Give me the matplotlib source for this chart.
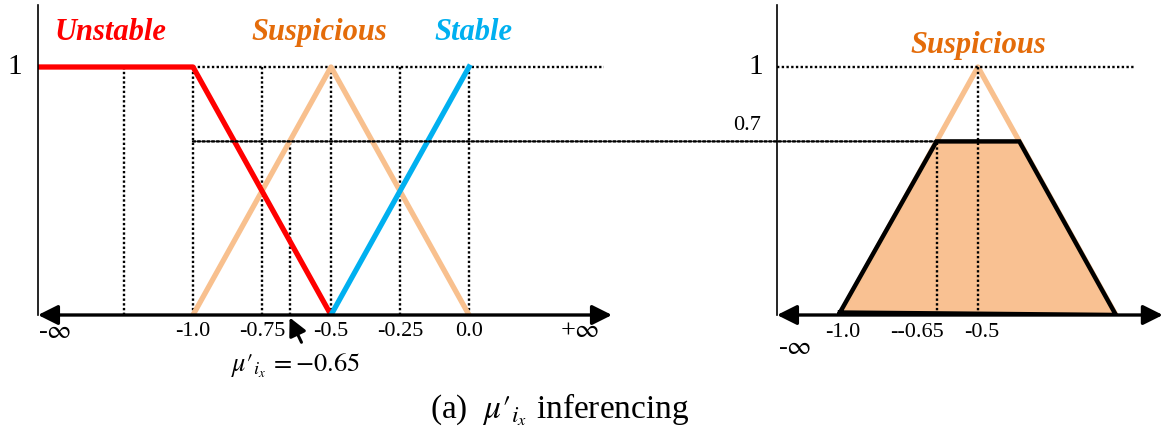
import matplotlib.pyplot as plt
from matplotlib.patches import ConnectionPatch

plt.rcParams['font.family'] = ['Liberation Serif', 'DejaVu Serif']
plt.rcParams['mathtext.fontset'] = 'stix'

# membership functions (left panel)
unstable_x = [-1.5616, -1.0, -0.5]
unstable_y = [1, 1, 0]
suspicious_x = [-1.0, -0.5, 0.0]
suspicious_y = [0, 1, 0]
stable_x = [-0.5, 0.0]
stable_y = [0, 1]
guide_x = [-1.25, -1.0, -0.75, -0.5, -0.25, 0.0]
tick_vals = [-1.0, -0.75, -0.5, -0.25, 0.0]
tick_labels = ['-1.0', '-0.75', '-0.5', '-0.25', '0.0']
mu_val = -0.65
cut = 0.7

# clipped set (right panel)
clip_x = [-1.0, -0.65, -0.35, 0.0]
clip_y = [0, 0.7, 0.7, 0]
rtick_vals = [-1.0, -0.65, -0.5]
rtick_labels = ['-1.0', '--0.65', '-0.5']

RED = '#ff0000'
PEACH = '#f8c08e'
BLUE = '#00b0f0'
ORANGE_TXT = '#e46c0a'
FILL = '#f9c192'
DOT = (0, (1, 1))

W, H = 1173, 445
PXU, PYU = 276.0, 248.0  # pixels per data unit
fig = plt.figure(figsize=(W / 100, H / 100), dpi=100)

MU = r"$\mu\prime_{i_x}$"


def make_ax(x0px, xlim, ytop=1.25):
    w = (xlim[1] - xlim[0]) * PXU
    h = ytop * PYU
    ax = fig.add_axes([x0px / W, (H - 315) / H, w / W, h / H])
    ax.set_xlim(*xlim)
    ax.set_ylim(0, ytop)
    ax.axis('off')
    return ax


def axis_lines(ax):
    x0, x1 = ax.get_xlim()
    ax.plot([x0, x0], [0, 1.25], color='k', lw=1.2, clip_on=False, zorder=5)
    ax.annotate('', xy=(x1, 0), xytext=(x0, 0),
                arrowprops=dict(arrowstyle='<|-|>,head_length=0.6,head_width=0.3',
                                lw=2.4, color='k', shrinkA=0, shrinkB=0,
                                mutation_scale=20),
                annotation_clip=False, zorder=6)


# ---------------- left panel
ax1 = make_ax(38, (-1.5616, 0.518))
for gx in guide_x:
    ax1.plot([gx, gx], [0, 1], color='k', lw=1.7, ls=DOT, zorder=2)
ax1.plot([mu_val, mu_val], [0, cut], color='k', lw=1.7, ls=DOT, zorder=2)
ax1.plot([-1.0, 0.49], [1, 1], color='k', lw=1.7, ls=DOT, zorder=2)

ax1.plot(suspicious_x, suspicious_y, color=PEACH, lw=3.8, zorder=3)
ax1.plot(unstable_x, unstable_y, color=RED, lw=3.8, zorder=4)
ax1.plot(stable_x, stable_y, color=BLUE, lw=3.8, zorder=4)
axis_lines(ax1)

lab_kw = dict(fontsize=22, fontweight='bold', style='italic', ha='center', va='center')
ax1.text(-1.30, 1.14, 'Unstable', color=RED, **lab_kw)
ax1.text(-0.543, 1.14, 'Suspicious', color=ORANGE_TXT, **lab_kw)
ax1.text(0.015, 1.14, 'Stable', color=BLUE, **lab_kw)

ax1.text(-1.645, 1.0, '1', fontsize=21, ha='center', va='center')
for v, t in zip(tick_vals, tick_labels):
    ax1.text(v, -0.065, t, fontsize=16, ha='center', va='center')
ax1.text(-1.56, -0.07, r'-$\infty$', fontsize=19, ha='left', va='center')
ax1.text(0.40, -0.065, r'+$\infty$', fontsize=19, ha='center', va='center')

ax1.text(-0.63, -0.205, MU + r"$\,=-0.65$", fontsize=19, ha='center', va='center')
ax1.annotate('', xy=(mu_val, -0.01), xytext=(-0.607, -0.11),
             arrowprops=dict(arrowstyle='-|>,head_length=0.6,head_width=0.3',
                             lw=2.2, color='k', shrinkA=0, shrinkB=0,
                             mutation_scale=18),
             annotation_clip=False)

# ---------------- right panel
ax2 = make_ax(777, (-1.228, 0.17))
ax2.fill(clip_x, clip_y, color=FILL, zorder=1)
ax2.plot(suspicious_x, suspicious_y, color=PEACH, lw=3.8, zorder=2)
ax2.plot([-1.228, 0.065], [1, 1], color='k', lw=1.7, ls=DOT, zorder=3)
ax2.plot([-0.5, -0.5], [0, 1], color='k', lw=1.7, ls=DOT, zorder=3)
ax2.plot([mu_val, mu_val], [0, cut], color='k', lw=1.7, ls=DOT, zorder=3)
ax2.plot(clip_x + [clip_x[0]], [0.01] + clip_y[1:] + [0.01], color='k', lw=3.2,
         solid_joinstyle='miter', zorder=4)
axis_lines(ax2)

ax2.text(-0.5, 1.085, 'Suspicious', color=ORANGE_TXT, **lab_kw)
ax2.text(-1.28, 1.0, '1', fontsize=21, ha='right', va='center')
ax2.text(-1.285, 0.765, '0.7', fontsize=16, ha='right', va='center')
roff = [0.01, -0.07, 0.015]
for v, t, o in zip(rtick_vals, rtick_labels, roff):
    ax2.text(v + o, -0.07, t, fontsize=16, ha='center', va='center')
ax2.text(-1.165, -0.135, r'-$\infty$', fontsize=19, ha='center', va='center')

# 0.7 cut line across both panels
con = ConnectionPatch(xyA=(-1.0, cut), coordsA=ax1.transData,
                      xyB=(mu_val, cut), coordsB=ax2.transData,
                      color='k', lw=1.7, ls=DOT, zorder=2)
fig.add_artist(con)

fig.text(560 / W, (H - 410) / H, "(a)  " + MU + " inferencing", fontsize=24,
         ha='center', va='center')

fig.savefig('out.png', dpi=100)
